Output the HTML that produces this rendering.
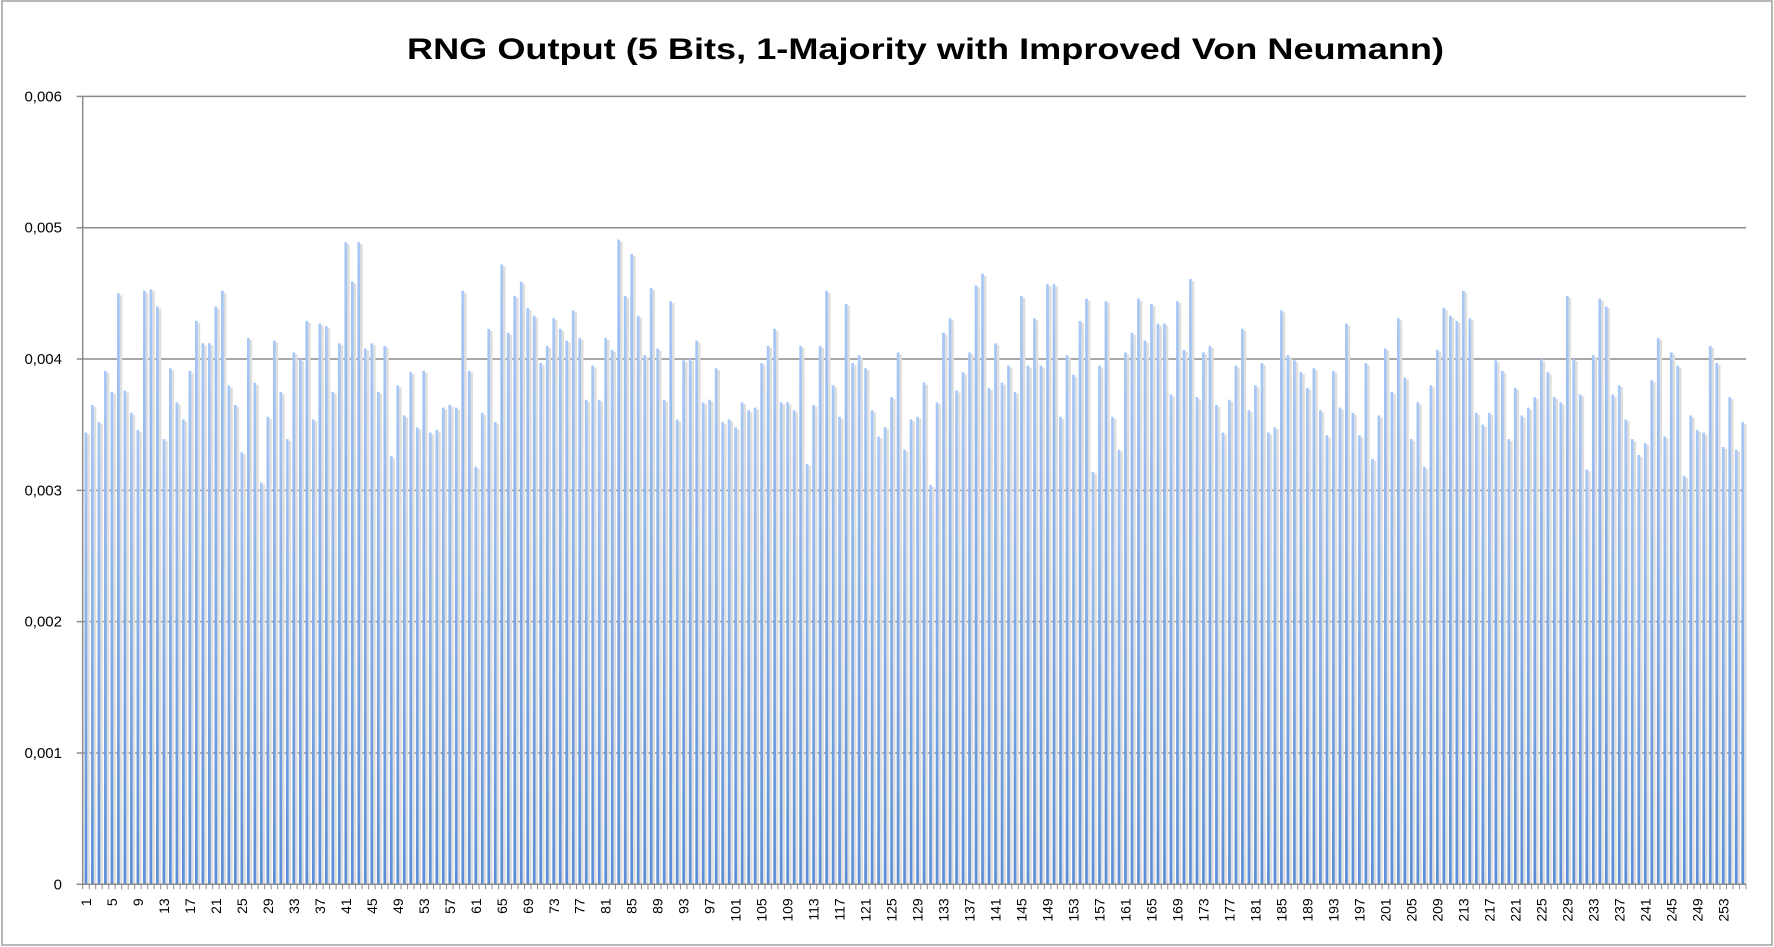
<!DOCTYPE html>
<html><head><meta charset="utf-8">
<style>
html,body{margin:0;padding:0;background:#fff;}
svg{display:block;font-family:"Liberation Sans",sans-serif;}
</style></head>
<body>
<svg id="chart" width="1774" height="947" viewBox="0 0 1774 947" xmlns="http://www.w3.org/2000/svg">
<defs>
<linearGradient id="barGrad" x1="0" y1="0" x2="0" y2="1">
<stop offset="0" stop-color="#a8c8f6"/>
<stop offset="1" stop-color="#5a8ed8"/>
</linearGradient>
</defs>
<rect x="2" y="1" width="1770" height="944" fill="#fff" stroke="#a0a0a0" stroke-width="1.5"/>
<text x="407" y="59" font-size="30" font-weight="bold" fill="#000" textLength="1037" lengthAdjust="spacingAndGlyphs">RNG Output (5 Bits, 1-Majority with Improved Von Neumann)</text>
<g id="grid"></g>
<g id="bars"></g>
<g id="axes"></g>
</svg>
<script>
const values = [
0.00344,0.00365,0.00352,0.00391,0.00375,0.0045,0.00376,0.00359,0.00346,0.00452,
0.00453,0.0044,0.00339,0.00393,0.00367,0.00354,0.00391,0.00429,0.00412,0.00412,
0.0044,0.00452,0.0038,0.00365,0.00329,0.00416,0.00382,0.00306,0.00356,0.00414,
0.00375,0.00339,0.00405,0.004,0.00429,0.00354,0.00427,0.00425,0.00375,0.00412,
0.00489,0.00459,0.00489,0.00408,0.00412,0.00375,0.0041,0.00326,0.0038,0.00357,
0.0039,0.00348,0.00391,0.00344,0.00346,0.00363,0.00365,0.00363,0.00452,0.00391,
0.00318,0.00359,0.00423,0.00352,0.00472,0.0042,0.00448,0.00459,0.00439,0.00433,
0.00397,0.0041,0.00431,0.00423,0.00414,0.00437,0.00416,0.00369,0.00395,0.00369,
0.00416,0.00407,0.00491,0.00448,0.0048,0.00433,0.00403,0.00454,0.00408,0.00369,
0.00444,0.00354,0.00399,0.004,0.00414,0.00367,0.00369,0.00393,0.00352,0.00354,
0.00348,0.00367,0.00361,0.00363,0.00397,0.0041,0.00423,0.00367,0.00367,0.00361,
0.0041,0.0032,0.00365,0.0041,0.00452,0.0038,0.00356,0.00442,0.00397,0.00403,
0.00393,0.00361,0.00341,0.00348,0.00371,0.00405,0.00331,0.00354,0.00356,0.00382,
0.00304,0.00367,0.0042,0.00431,0.00376,0.0039,0.00405,0.00456,0.00465,0.00378,
0.00412,0.00382,0.00395,0.00375,0.00448,0.00395,0.00431,0.00395,0.00457,0.00457,
0.00356,0.00403,0.00388,0.00429,0.00446,0.00314,0.00395,0.00444,0.00356,0.00331,
0.00405,0.0042,0.00446,0.00414,0.00442,0.00427,0.00427,0.00373,0.00444,0.00407,
0.00461,0.00371,0.00405,0.0041,0.00365,0.00344,0.00369,0.00395,0.00423,0.00361,
0.0038,0.00397,0.00344,0.00348,0.00437,0.00403,0.00399,0.0039,0.00378,0.00393,
0.00361,0.00342,0.00391,0.00363,0.00427,0.00359,0.00342,0.00397,0.00324,0.00357,
0.00408,0.00375,0.00431,0.00386,0.00339,0.00367,0.00318,0.0038,0.00407,0.00439,
0.00433,0.00429,0.00452,0.00431,0.00359,0.0035,0.00359,0.00399,0.00391,0.00339,
0.00378,0.00357,0.00363,0.00371,0.004,0.0039,0.00371,0.00367,0.00448,0.004,
0.00373,0.00316,0.00403,0.00446,0.0044,0.00373,0.0038,0.00354,0.00339,0.00327,
0.00336,0.00384,0.00416,0.00341,0.00405,0.00395,0.00311,0.00357,0.00346,0.00344,
0.0041,0.00397,0.00333,0.00371,0.00331,0.00352
];
const categories = values.map((v,i)=>String(i+1));
const yTicks = [0,0.001,0.002,0.003,0.004,0.005,0.006];
const yTickLabels = ["0","0,001","0,002","0,003","0,004","0,005","0,006"];

const NS="http://www.w3.org/2000/svg";
const L=82.7, R=1746, T=96.4, B=884.3, YMAX=0.006;
const pitch=(R-L)/categories.length;
const y=v=>B-(v/YMAX)*(B-T);
const x=i=>L+pitch*i;
function mk(tag,attrs,parent){const e=document.createElementNS(NS,tag);for(const k in attrs)e.setAttribute(k,attrs[k]);parent.appendChild(e);return e;}

const grid=document.getElementById('grid');
const bars=document.getElementById('bars');
const axes=document.getElementById('axes');

yTicks.forEach((t,k)=>{
  if(t>0){
    const g=mk('line',{x1:L,x2:R,y1:y(t),y2:y(t),stroke:'#8c8c8c','stroke-width':1.5},grid);
    
    
  }
  const tk=mk('line',{x1:L-6,x2:L,y1:y(t),y2:y(t),stroke:'#8c8c8c','stroke-width':1.5},axes);
  
  
  const lb=mk('text',{x:62,y:y(t)+5,'font-size':15,'text-anchor':'end',fill:'#000'},axes);
  lb.textContent=yTickLabels[k];
  
  
});

values.forEach((v,i)=>{
  const cx=x(i)+pitch/2;
  const sh=mk('rect',{x:cx+1.2,y:y(v)+2,width:2.6,height:B-y(v)-2,fill:'#dedede'},bars);
  
  
  const b=mk('rect',{x:cx-1.4,y:y(v),width:2.7,height:B-y(v),fill:'url(#barGrad)'},bars);
  
  
});

const yAxis=mk('line',{x1:L,x2:L,y1:T,y2:B,stroke:'#8c8c8c','stroke-width':1.5},axes);


const xAxis=mk('line',{x1:L-6,x2:R,y1:B,y2:B,stroke:'#8c8c8c','stroke-width':1.5},axes);


for(let i=0;i<=categories.length;i++){
  const t=mk('line',{x1:x(i),x2:x(i),y1:B,y2:B+5,stroke:'#8c8c8c','stroke-width':1},axes);
  
  
}
categories.forEach((c,i)=>{
  if(i%4!==0) return;
  const cx=x(i)+pitch/2;
  const t=mk('text',{x:0,y:0,'font-size':14,'text-anchor':'end',fill:'#000',transform:`translate(${cx+5},${B+14}) rotate(-90)`},axes);
  t.textContent=c;
  
  
});
</script>
</body></html>
